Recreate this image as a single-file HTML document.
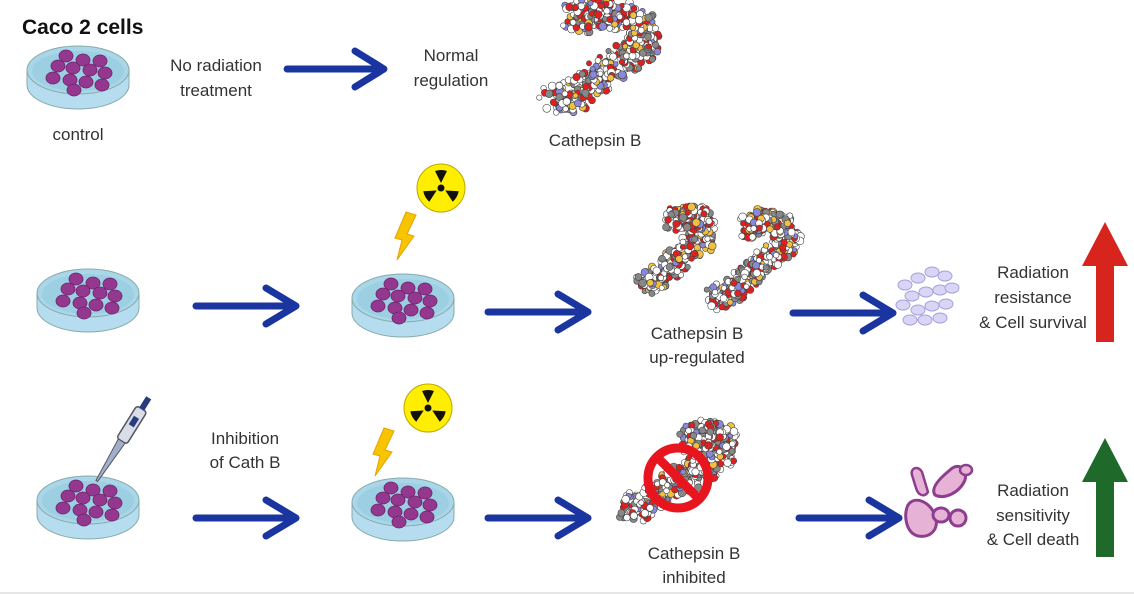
<!DOCTYPE html>
<html><head><meta charset="utf-8"><style>
html,body{margin:0;padding:0;background:#fff;}
svg{display:block}
text{font-family:"Liberation Sans",sans-serif;fill:#333;font-size:17px}
</style></head><body>
<svg id="s" width="1134" height="595" viewBox="0 0 1134 595" xmlns="http://www.w3.org/2000/svg">
<defs>
<g id="dish">
 <path d="M-51,0 L-51,15 A51,24 0 0 0 51,15 L51,0 Z" fill="#b5ddef" stroke="#8aa" stroke-width="1"/>
 <ellipse cx="0" cy="0" rx="51" ry="24" fill="#a9d6e8" stroke="#8aa" stroke-width="1"/>
 <ellipse cx="0" cy="1" rx="46" ry="20" fill="#9ccfe2"/>
 <g fill="#93388e" stroke="#6c2468" stroke-width="0.8">
  <ellipse cx="-12" cy="-14" rx="7" ry="6"/><ellipse cx="5" cy="-10" rx="7" ry="6"/><ellipse cx="22" cy="-9" rx="7" ry="6"/>
  <ellipse cx="-20" cy="-4" rx="7" ry="6"/><ellipse cx="-5" cy="-2" rx="7" ry="6"/><ellipse cx="12" cy="0" rx="7" ry="6"/><ellipse cx="27" cy="3" rx="7" ry="6"/>
  <ellipse cx="-25" cy="8" rx="7" ry="6"/><ellipse cx="-8" cy="10" rx="7" ry="6"/><ellipse cx="8" cy="12" rx="7" ry="6"/><ellipse cx="24" cy="15" rx="7" ry="6"/>
  <ellipse cx="-4" cy="20" rx="7" ry="6"/>
 </g>
</g>
<g id="arr"><path d="M0,0 L100,0 M70,-18 L100,0 L70,18" fill="none" stroke="#1a35a0" stroke-width="7" stroke-linecap="round" stroke-linejoin="round"/></g>
<g id="rad">
 <circle r="24" fill="#ffee00" stroke="#bba800" stroke-width="1"/>
 <g fill="#111"><circle r="3.5"/>
 <path d="M0,-5 L-6,-17 A18,18 0 0 1 6,-17 Z" transform="rotate(0)"/>
 <path d="M0,-5 L-6,-17 A18,18 0 0 1 6,-17 Z" transform="rotate(120)"/>
 <path d="M0,-5 L-6,-17 A18,18 0 0 1 6,-17 Z" transform="rotate(240)"/></g>
</g>
<g id="bolt"><path d="M6,0 L16,3 L7,22 L14,24 L-3,48 L2,28 L-5,26 Z" fill="#f8c400" stroke="#e3a400" stroke-width="1"/></g>
</defs>
<text x="22" y="34" style="font-weight:bold;font-size:21px;fill:#111">Caco 2 cells</text>
<g transform="translate(78,70)"><use href="#dish"/></g>
<text x="78" y="140" text-anchor="middle">control</text>
<text x="216" y="71" text-anchor="middle">No radiation</text>
<text x="216" y="96" text-anchor="middle">treatment</text>
<use href="#arr" transform="translate(287,69) scale(0.97,1)"/>
<text x="451" y="61" text-anchor="middle">Normal</text>
<text x="451" y="86" text-anchor="middle">regulation</text>
<g id="p1"></g>
<text x="595" y="146" text-anchor="middle">Cathepsin B</text>

<g transform="translate(88,293)"><use href="#dish"/></g>
<use href="#arr" transform="translate(196,306)"/>
<g transform="translate(403,298)"><use href="#dish"/></g>
<use href="#rad" transform="translate(441,188)"/>
<use href="#bolt" transform="translate(400,212)"/>
<use href="#arr" transform="translate(488,312)"/>
<g id="p2"></g><g id="p3"></g>
<text x="697" y="339" text-anchor="middle">Cathepsin B</text>
<text x="697" y="363" text-anchor="middle">up-regulated</text>
<use href="#arr" transform="translate(793,313)"/>
<g id="cl" fill="#d9d6f5" stroke="#a8a0e0" stroke-width="1"></g>
<text x="1033" y="278" text-anchor="middle">Radiation</text>
<text x="1033" y="303" text-anchor="middle">resistance</text>
<text x="1033" y="328" text-anchor="middle">&amp; Cell survival</text>
<path d="M1096,342 L1114,342 L1114,266 L1128,266 L1105,222 L1082,266 L1096,266 Z" fill="#d7251e"/>

<g transform="translate(88,500)"><use href="#dish"/></g>
<g transform="translate(118,447) rotate(32)">
 <rect x="-6" y="-45" width="12" height="38" rx="3" fill="#d8dde6" stroke="#556" stroke-width="1.5"/>
 <rect x="-3" y="-58" width="6" height="13" fill="#2a3c80"/>
 <path d="M-4,-7 L4,-7 L1,40 L-1,40 Z" fill="#9fb0c8" stroke="#556" stroke-width="1"/>
 <rect x="-3" y="-35" width="6" height="10" fill="#2a3c80"/>
</g>
<text x="245" y="444" text-anchor="middle">Inhibition</text>
<text x="245" y="468" text-anchor="middle">of Cath B</text>
<use href="#arr" transform="translate(196,518)"/>
<g transform="translate(403,502)"><use href="#dish"/></g>
<use href="#rad" transform="translate(428,408)"/>
<use href="#bolt" transform="translate(378,428)"/>
<use href="#arr" transform="translate(488,518)"/>
<g id="p4"></g>
<g transform="translate(678,478)"><circle r="30" fill="none" stroke="#e8141e" stroke-width="9"/><path d="M-21,-21 L21,21" stroke="#e8141e" stroke-width="9"/></g>
<text x="694" y="559" text-anchor="middle">Cathepsin B</text>
<text x="694" y="583" text-anchor="middle">inhibited</text>
<use href="#arr" transform="translate(799,518)"/>
<g fill="#e6b3d6" stroke="#8d3e8f" stroke-width="3">
 <path d="M908,505 C915,495 930,502 935,515 C940,530 930,538 918,536 C906,533 903,515 908,505Z"/>
 <path d="M935,495 C930,488 940,478 950,470 C958,462 968,468 965,480 C960,492 945,500 935,495Z"/>
 <ellipse cx="941" cy="515" rx="8" ry="7"/><ellipse cx="958" cy="518" rx="8" ry="8"/>
 <path d="M912,475 C910,468 918,465 922,472 L928,492 C924,498 918,495 916,488Z" stroke-width="2.5"/>
 <ellipse cx="966" cy="470" rx="6" ry="5" stroke-width="2.5"/>
</g>
<text x="1033" y="496" text-anchor="middle">Radiation</text>
<text x="1033" y="521" text-anchor="middle">sensitivity</text>
<text x="1033" y="545" text-anchor="middle">&amp; Cell death</text>
<path d="M1096,557 L1114,557 L1114,482 L1128,482 L1105,438 L1082,482 L1096,482 Z" fill="#1f6a2a"/>
<line x1="0" y1="593" x2="1134" y2="593" stroke="#ddd" stroke-width="1.5"/>
</svg>
<script>
var seed=7;function r(){seed=(seed*16807)%2147483647;return seed/2147483647;}
var NS="http://www.w3.org/2000/svg";
var cols=["#ffffff","#ffffff","#ffffff","#ffffff","#e02020","#e02020","#888888","#888888","#8888dd","#f0c040"];
function prot(id,pts,w){var g=document.getElementById(id);
 for(var i=0;i<pts.length-1;i++){var a=pts[i],b=pts[i+1];var n=75;
  for(var k=0;k<n;k++){var t=r();var x=a[0]+(b[0]-a[0])*t+(r()-0.5)*w,y=a[1]+(b[1]-a[1])*t+(r()-0.5)*w;
   var c=document.createElementNS(NS,"circle");c.setAttribute("cx",x.toFixed(1));c.setAttribute("cy",y.toFixed(1));
   c.setAttribute("r",(2.6+r()*1.4).toFixed(1));c.setAttribute("fill",cols[Math.floor(r()*cols.length)]);
   c.setAttribute("stroke","#444");c.setAttribute("stroke-width","0.6");g.appendChild(c);}}}
prot("p1",[[553,100],[575,95],[600,75],[625,60],[645,45],[640,25],[615,15],[590,12],[575,20]],28);
prot("p2",[[645,285],[665,275],[680,255],[700,240],[705,225],[690,215],[670,220]],22);
prot("p3",[[715,300],[735,290],[755,270],[775,255],[790,240],[780,225],[760,220],[745,230]],22);
prot("p4",[[630,510],[650,500],[670,485],[695,470],[720,455],[725,440],[705,432],[690,440]],26);
var cl=document.getElementById("cl");
[[905,285],[918,278],[932,272],[945,276],[912,296],[926,292],[940,290],[952,288],[903,305],[918,310],[932,306],[946,304],[925,320],[940,318],[910,320]].forEach(function(p){
 var e=document.createElementNS(NS,"ellipse");e.setAttribute("cx",p[0]);e.setAttribute("cy",p[1]);e.setAttribute("rx",7);e.setAttribute("ry",5);cl.appendChild(e);});
</script>
</body></html>
